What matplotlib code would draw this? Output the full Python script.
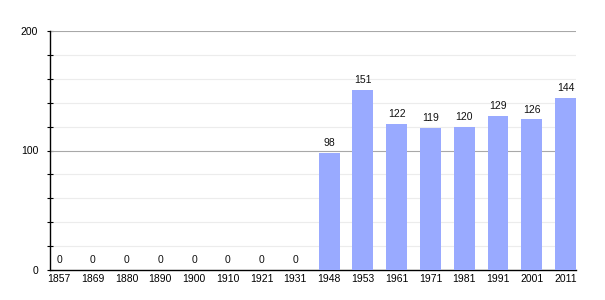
import matplotlib
matplotlib.use("Agg")
import matplotlib.pyplot as plt
import numpy as np

years = ["1857", "1869", "1880", "1890", "1900", "1910", "1921", "1931",
         "1948", "1953", "1961", "1971", "1981", "1991", "2001", "2011"]
population = [0, 0, 0, 0, 0, 0, 0, 0, 98, 151, 122, 119, 120, 129, 126, 144]

plt.rcParams['font.family'] = ['Liberation Sans', 'DejaVu Sans']

fig = plt.figure(figsize=(6.05, 3.0), dpi=100)
ax = fig.add_axes([50/605, 1-270/300, (576-50)/605, (270-31)/300])

x = np.arange(len(years))
ax.bar(x, population, width=0.62, color="#99aaff", zorder=3)

for xi, v in zip(x, population):
    ax.text(xi, v + 4, str(v), ha="center", va="bottom", fontsize=7.5, color="#111111", zorder=4)

ax.set_xlim(-0.267, 15.31)
ax.set_ylim(0, 200)

for yv in range(20, 200, 20):
    if yv == 100:
        continue
    ax.axhline(yv, color="#ececec", lw=0.8, zorder=1)
for yv in (100, 200):
    ax.axhline(yv, color="#a8a8a8", lw=0.8, zorder=2)

ax.set_yticks(range(0, 201, 20))
ax.set_yticklabels([str(v) if v % 100 == 0 else "" for v in range(0, 201, 20)], fontsize=7.5)
ax.tick_params(axis="y", length=4, width=0.8, direction="inout", pad=6.5)
ax.set_xticks(x)
ax.set_xticklabels(years, fontsize=7.5)
ax.tick_params(axis="x", length=0, pad=3)

for s in ("top", "right"):
    ax.spines[s].set_visible(False)
ax.spines["left"].set_linewidth(1.0)
ax.spines["bottom"].set_linewidth(1.0)

fig.savefig("out.png", dpi=100)
